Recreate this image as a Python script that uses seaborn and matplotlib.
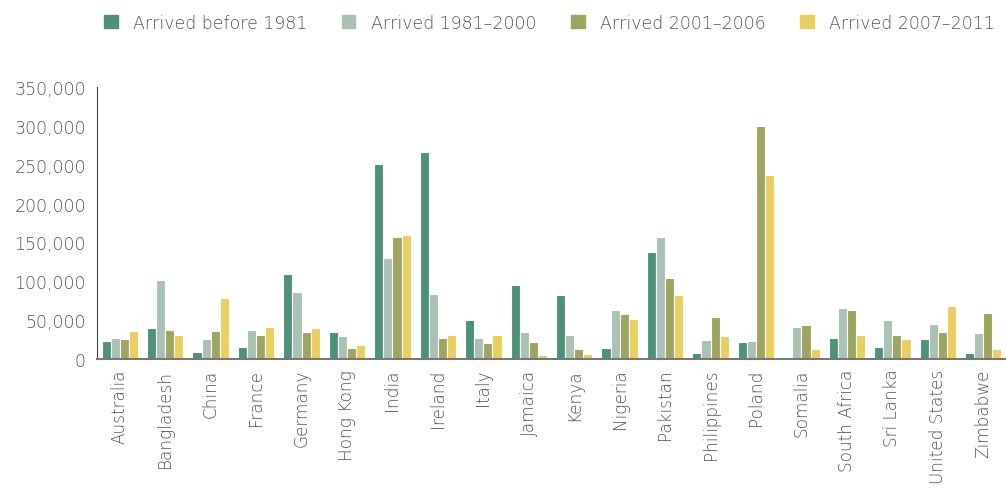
import pandas as pd
import matplotlib
matplotlib.use("Agg")
import matplotlib.pyplot as plt
import seaborn as sns
from matplotlib.ticker import FuncFormatter

countries = ["Australia", "Bangladesh", "China", "France", "Germany", "Hong Kong",
             "India", "Ireland", "Italy", "Jamaica", "Kenya", "Nigeria", "Pakistan",
             "Philippines", "Poland", "Somalia", "South Africa", "Sri Lanka",
             "United States", "Zimbabwe"]
periods = ["Arrived before 1981", "Arrived 1981\u20132000",
           "Arrived 2001\u20132006", "Arrived 2007\u20132011"]

before_1981 = [23700, 39600, 8600, 16000, 109000, 35300, 250800, 265900, 50400, 95700,
               81900, 14200, 137900, 7300, 21500, 900, 27600, 15500, 25400, 7300]
arr_1981_2000 = [27100, 101300, 25900, 37500, 86200, 29700, 130600, 83200, 27600, 34500,
                 31500, 63400, 157300, 24600, 23300, 41800, 65500, 50400, 45200, 33600]
arr_2001_2006 = [25900, 37500, 36600, 31000, 35300, 14600, 157300, 26700, 20700, 21500,
                 12500, 58200, 104700, 53900, 300400, 43500, 63400, 31500, 35300, 59500]
arr_2007_2011 = [36600, 31000, 78400, 41800, 40500, 17700, 159500, 31500, 31500, 5200,
                 6500, 51300, 82700, 30200, 236200, 12500, 31500, 25400, 68500, 12500]

colors = ["#4e917a", "#a9c2b4", "#9da55e", "#e9cf5f"]

rows = []
for name, vals in zip(periods, [before_1981, arr_1981_2000, arr_2001_2006, arr_2007_2011]):
    for c, v in zip(countries, vals):
        rows.append({"country": c, "period": name, "people": v})
df = pd.DataFrame(rows)

sns.set_style("white")
plt.rcParams["font.family"] = ["DejaVu Sans"]
plt.rcParams["font.weight"] = "light"
text_col = "#555555"

fig = plt.figure(figsize=(10.06, 4.89), dpi=100)
ax = fig.add_axes([97 / 1006, (489 - 360) / 489, 909 / 1006, (360 - 88) / 489])

sns.barplot(data=df, x="country", y="people", hue="period", order=countries,
            hue_order=periods, palette=colors, width=0.8, edgecolor="white",
            linewidth=0.8, saturation=1, ax=ax, legend=False)

ax.set_xlim(-0.5, len(countries) - 0.5)
ax.set_ylim(0, 350000)
ax.set_yticks(range(0, 350001, 50000))
ax.yaxis.set_major_formatter(FuncFormatter(lambda v, p: f"{int(v):,}"))
ax.set_xlabel("")
ax.set_ylabel("")
ax.tick_params(axis="both", length=0, labelcolor=text_col)
ax.tick_params(axis="y", pad=8, labelsize=12.5)
ax.tick_params(axis="x", pad=7, labelsize=12.2)
for lab in ax.get_xticklabels():
    lab.set_rotation(90)

for s in ["top", "right"]:
    ax.spines[s].set_visible(False)
ax.spines["left"].set_color("#444444")
ax.spines["bottom"].set_color("#777777")
ax.spines["left"].set_linewidth(0.8)
ax.spines["bottom"].set_linewidth(1.5)

handles = [plt.Rectangle((0, 0), 1, 1, color=c) for c in colors]
leg = fig.legend(handles, periods, loc="upper left", bbox_to_anchor=(88 / 1006, 1 + 1 / 489),
                 ncol=4, frameon=False, fontsize=12.5, handlelength=0.8, handleheight=0.8,
                 handletextpad=0.87, columnspacing=2.0)
for t in leg.get_texts():
    t.set_color(text_col)

fig.savefig("out.png", dpi=100)
